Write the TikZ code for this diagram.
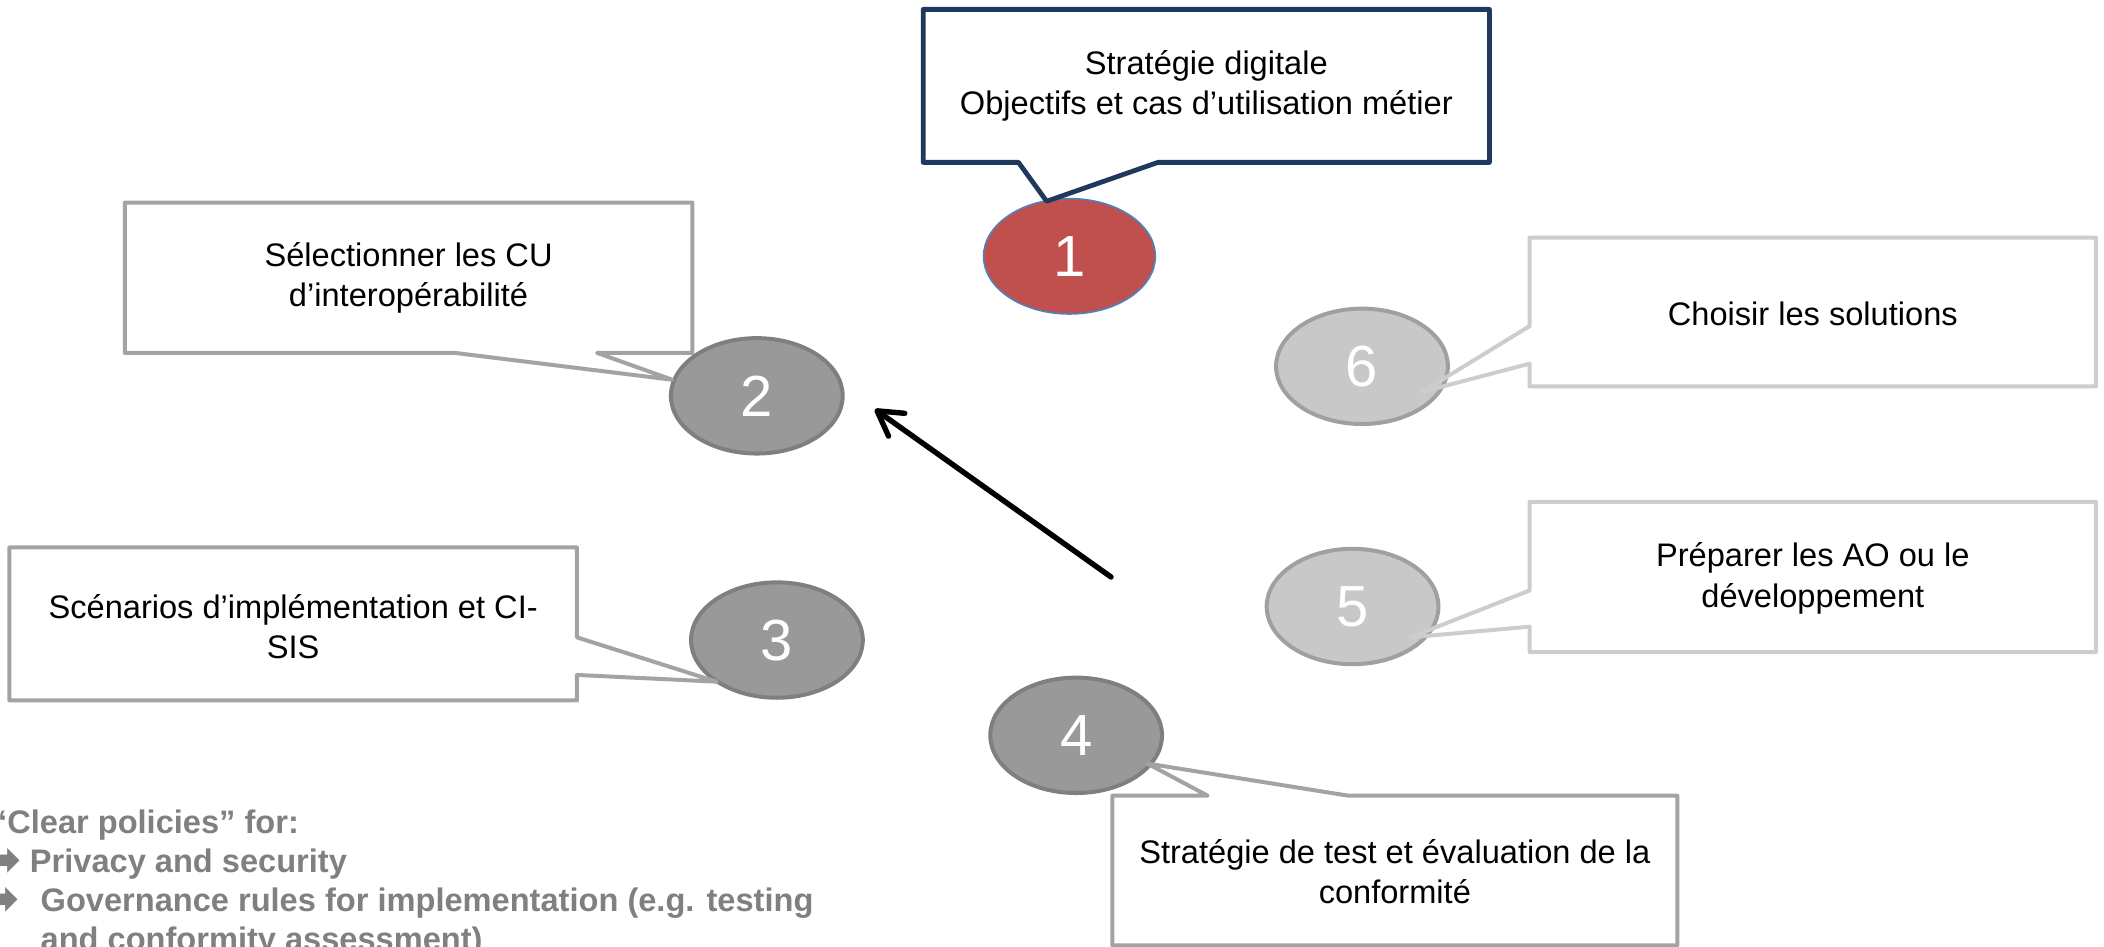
\documentclass[tikz,border=0pt]{standalone}
\usepackage{fontspec}
\setmainfont{Liberation Sans}
\newfontfamily\symfont{DejaVu Sans}
\usetikzlibrary{shapes.geometric,arrows.meta}
\definecolor{navy}{RGB}{31,56,93}
\definecolor{redfill}{RGB}{192,80,77}
\definecolor{blueline}{RGB}{79,129,189}
\definecolor{darkfill}{RGB}{153,153,153}
\definecolor{darkline}{RGB}{127,127,127}
\definecolor{lightfill}{RGB}{200,200,200}
\definecolor{lightline}{RGB}{160,160,160}
\definecolor{boxgray}{RGB}{163,163,163}
\definecolor{boxlight}{RGB}{205,205,205}
\definecolor{policygray}{RGB}{128,128,128}
\begin{document}
\begin{tikzpicture}[x=0.671pt,y=-0.671pt,
  callout/.style={line width=2pt,line join=round},
  calloutnavy/.style={callout,draw=navy,line width=2.4pt},
  calloutgray/.style={callout,draw=boxgray},
  calloutlight/.style={callout,draw=boxlight},
  boxtext/.style={align=center,font=\fontsize{16.3}{20.1}\selectfont,text=black,inner sep=0pt},
  stepnum/.style={ellipse,minimum width=85.9pt,minimum height=57.7pt,inner sep=0pt,
    font=\fontsize{29}{29}\selectfont,text=white},
  stepred/.style={stepnum,fill=redfill,draw=blueline,line width=0.8pt},
  stepdark/.style={stepnum,fill=darkfill,draw=darkline,line width=2pt},
  steplight/.style={stepnum,fill=lightfill,draw=lightline,line width=2pt},
  policy/.style={anchor=base west,inner sep=0pt,text=policygray,font=\fontsize{16.3}{19.2}\selectfont\bfseries},
  policyarrow/.style={anchor=east,inner sep=0pt,text=policygray,font=\fontsize{25}{25}\selectfont\symfont},
  flowarrow/.style={line width=2.7pt,line cap=round,-{Straight Barb[length=12pt,width=14pt,round]}}
]
\useasboundingbox (0,0) rectangle (1568,705.7);
\clip (0,0) rectangle (1568,705.7);

% step ellipses
\node[stepred]   (e1) at (797,191) {1};
\node[stepdark]  (e2) at (564,295) {2};
\node[stepdark]  (e3) at (579,477) {3};
\node[stepdark]  (e4) at (802,548) {4};
\node[steplight] (e5) at (1008,452) {5};
\node[steplight] (e6) at (1015,273) {6};

% callouts
\draw[calloutnavy] (688,7) -- (1110,7) -- (1110,121) -- (863,121) -- (780,150) -- (759,121) -- (688,121) -- cycle;
\draw[calloutgray] (93,151) -- (516,151) -- (516,263) -- (445,263) -- (501,283) -- (339,263) -- (93,263) -- cycle;
\draw[calloutgray] (7,408) -- (430,408) -- (430,475) -- (534,508) -- (430,503) -- (430,522) -- (7,522) -- cycle;
\draw[calloutgray] (829,593) -- (900,593) -- (855,569) -- (1005,593) -- (1250,593) -- (1250,704.5) -- (829,704.5) -- cycle;
\draw[calloutlight] (1140,374) -- (1562,374) -- (1562,486) -- (1140,486) -- (1140,467) -- (1051,475) -- (1140,440) -- cycle;
\draw[calloutlight] (1140,177) -- (1562,177) -- (1562,288) -- (1140,288) -- (1140,271) -- (1060,292) -- (1140,243) -- cycle;

% callout texts
\node[boxtext] (t1) at (899,64) {Stratégie digitale\\Objectifs et cas d’utilisation métier};
\node[boxtext] (t2) at (304.5,207) {Sélectionner les CU\\d’interopérabilité};
\node[boxtext] (t3) at (218.5,467) {Scénarios d’implémentation et CI-\\SIS};
\node[boxtext] (t4) at (1039.5,649.5) {Stratégie de test et évaluation de la\\conformité};
\node[boxtext] (t5) at (1351,431) {Préparer les AO ou le\\développement};
\node[boxtext] (t6) at (1351,234) {Choisir les solutions};

% arrow
\coordinate (as) at (828,430);
\coordinate (ae) at (652,305);
\draw[flowarrow] (as) -- (ae);

% policies text
\node[policy] (p1) at (-7,621) {“Clear policies” for:};
\node[policyarrow] (a2) at (16,643) {➡};
\node[policy] (p2) at (22,650) {Privacy and security};
\node[policyarrow] (a3) at (15,672) {➡};
\node[policy] (p3) at (30,679) {Governance rules for implementation (e.g. testing};
\node[policy] (p4) at (30,708) {and conformity assessment)};
\end{tikzpicture}
\end{document}
